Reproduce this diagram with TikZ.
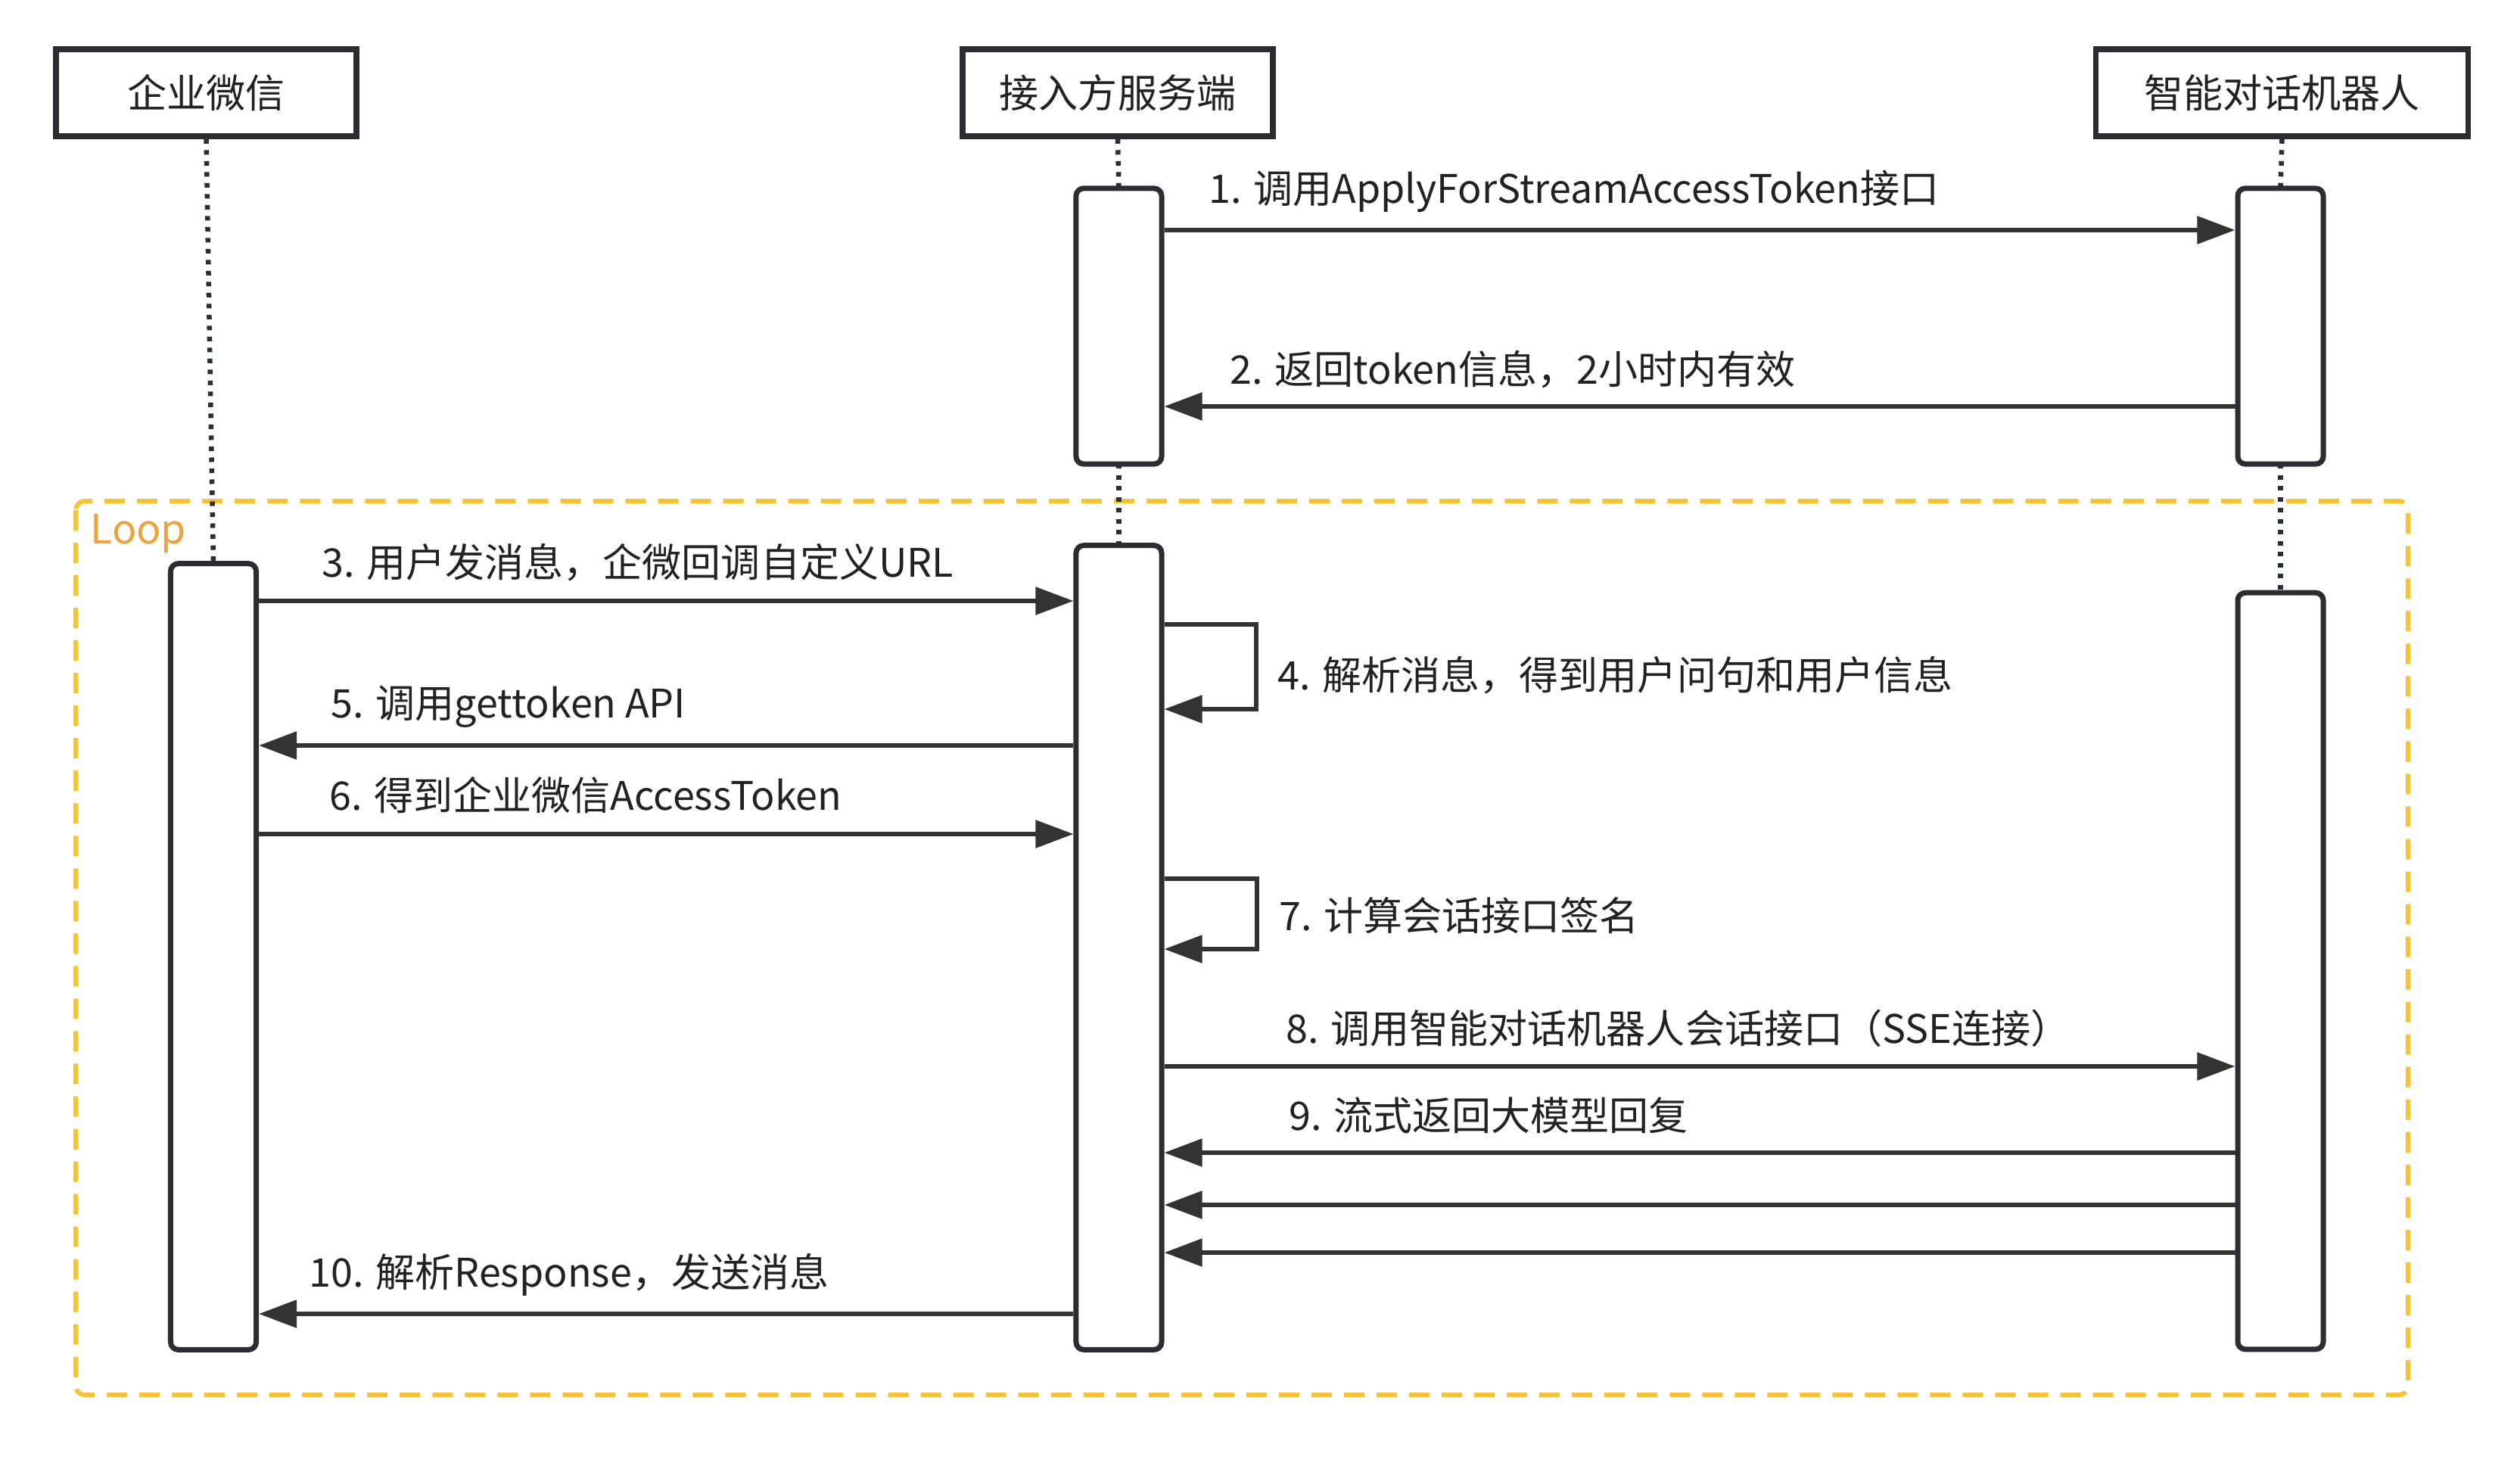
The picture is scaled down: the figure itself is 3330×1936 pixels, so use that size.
\documentclass[tikz,border=0pt]{standalone}
\usepackage{fontspec}
\newfontfamily\cjk{Noto Sans CJK SC}
\usetikzlibrary{arrows.meta}
\definecolor{boxc}{HTML}{2A2E33}
\definecolor{linec}{HTML}{333333}
\definecolor{txt}{HTML}{222222}
\definecolor{loopc}{HTML}{F9C22E}
\definecolor{loopt}{HTML}{F0A13A}
\tikzset{
  hdr/.style={draw=boxc, line width=0.075cm, minimum height=1.15cm, inner sep=0,
    font=\cjk\fontsize{14.8}{17}\selectfont, text=txt},
  act/.style={draw=boxc, fill=white, line width=0.07cm, rounded corners=0.1cm,
    minimum width=1.13cm, inner sep=0},
  life/.style={draw=boxc, line width=0.065cm, dash pattern=on 0.06cm off 0.085cm},
  msg/.style={draw=linec, line width=0.055cm, -{Triangle[length=0.5cm,width=0.36cm]}},
  lbl/.style={anchor=west, inner sep=0, font=\cjk\fontsize{14.8}{17}\selectfont, text=txt},
  loopbox/.style={draw=loopc, line width=0.06cm, dash pattern=on 0.27cm off 0.16cm, rounded corners=0.12cm}
}
\begin{document}
\begin{tikzpicture}[x=0.01cm,y=-0.01cm]
\useasboundingbox (0,0) rectangle (3330,1936);
\fill[white] (0,0) rectangle (3330,1936);
% headers
\node[hdr, minimum width=3.97cm] (h1) at (272.5,122.5) {企业微信};
\node[hdr, minimum width=4.10cm] (h2) at (1477,122.5) {接入方服务端};
\node[hdr, minimum width=4.92cm] (h3) at (3015.5,122.5) {智能对话机器人};
% loop frame
\draw[loopbox] (100,662) rectangle (3182,1843);
\node[anchor=west, inner sep=0, font=\cjk\fontsize{15.2}{17}\selectfont, text=loopt] (looplbl) at (119,705) {Loop};
% activation boxes (positions)
\coordinate (a1t) at (282,745);
\coordinate (b1t) at (1478.5,249);
\coordinate (c1t) at (3013.5,249);
\coordinate (b2t) at (1478.5,721);
\coordinate (c2t) at (3013.5,784);
% lifelines
\draw[life] (h1.south) -- (a1t);
\draw[life] (h2.south) -- (b1t);
\draw[life] (h3.south) -- (c1t);
\draw[life] (1478.5,613) -- (b2t);
\draw[life] (3013.5,613) -- (c2t);
% activations
\node[act, minimum height=3.64cm] (b1) at (1478.5,431) {};
\node[act, minimum height=3.64cm] (c1) at (3013.5,431) {};
\node[act, minimum height=10.38cm] (a2) at (282,1264) {};
\node[act, minimum height=10.62cm] (b2) at (1478.5,1252) {};
\node[act, minimum height=9.99cm] (c2) at (3013.5,1283) {};
% messages
\draw[msg] (b1.east |- 0,304) -- (c1.west |- 0,304);
\node[lbl] (l1) at (1597,253) {1. 调用ApplyForStreamAccessToken接口};
\draw[msg] (c1.west |- 0,537) -- (b1.east |- 0,537);
\node[lbl] (l2) at (1625,488) {2. 返回token信息，2小时内有效};
\draw[msg] (a2.east |- 0,794) -- (b2.west |- 0,794);
\node[lbl] (l3) at (425,743) {3. 用户发消息，企微回调自定义URL};
\draw[msg] (b2.east |- 0,825) -- (1660,825) -- (1660,937) -- (b2.east |- 0,937);
\node[lbl] (l4) at (1688,892) {4. 解析消息，得到用户问句和用户信息};
\draw[msg] (b2.west |- 0,985) -- (a2.east |- 0,985);
\node[lbl] (l5) at (437,934) {5. 调用gettoken API};
\draw[msg] (a2.east |- 0,1102) -- (b2.west |- 0,1102);
\node[lbl] (l6) at (435,1051) {6. 得到企业微信AccessToken};
\draw[msg] (b2.east |- 0,1161) -- (1661,1161) -- (1661,1254) -- (b2.east |- 0,1254);
\node[lbl] (l7) at (1690,1210) {7. 计算会话接口签名};
\draw[msg] (b2.east |- 0,1409) -- (c2.west |- 0,1409);
\node[lbl] (l8) at (1699,1359) {8. 调用智能对话机器人会话接口（SSE连接）};
\draw[msg] (c2.west |- 0,1523) -- (b2.east |- 0,1523);
\node[lbl] (l9) at (1703,1474) {9. 流式返回大模型回复};
\draw[msg] (c2.west |- 0,1592) -- (b2.east |- 0,1592);
\draw[msg] (c2.west |- 0,1655) -- (b2.east |- 0,1655);
\draw[msg] (b2.west |- 0,1736) -- (a2.east |- 0,1736);
\node[lbl] (l10) at (408,1684) {10. 解析Response，发送消息};
\end{tikzpicture}
\end{document}
